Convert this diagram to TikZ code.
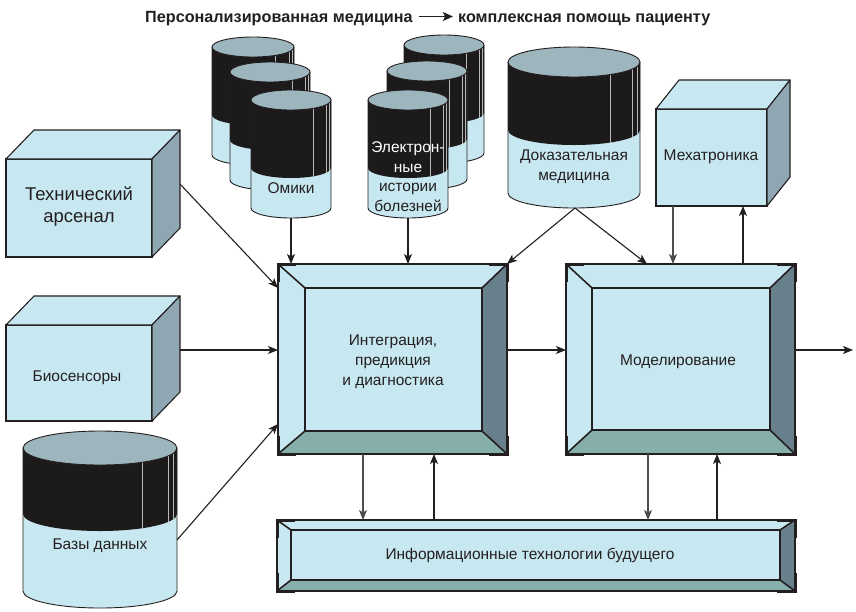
\documentclass[tikz,border=0pt]{standalone}
\usepackage{fontspec}
\setmainfont{Liberation Sans}
\usetikzlibrary{arrows.meta,calc}
\definecolor{lb}{RGB}{200,232,241}
\definecolor{cubeside}{RGB}{142,167,178}
\definecolor{captop}{RGB}{157,181,188}
\definecolor{bevright}{RGB}{104,128,140}
\definecolor{bevbot}{RGB}{134,174,170}
\definecolor{ink}{RGB}{35,31,32}
\definecolor{band}{RGB}{28,26,27}

% cylinder: cx, top cy, band cy, bottom cy, rx, ry
\newcommand\drawcyl[6]{%
  \fill[lb] (#1-#5,#2) -- (#1-#5,#4) arc[start angle=180,end angle=0,x radius=#5,y radius=#6] -- (#1+#5,#2) -- cycle;
  \fill[band] (#1-#5,#2) -- (#1-#5,#3) arc[start angle=180,end angle=0,x radius=#5,y radius=#6] -- (#1+#5,#2) -- cycle;
  \foreach \f in {0.55,0.88,0.95}{
    \draw[gray!55, line width=0.4pt] ({#1+\f*#5},{#2+sqrt(1-\f*\f)*#6}) -- ({#1+\f*#5},{#3+sqrt(1-\f*\f)*#6});
  }
  \draw[ink, line width=0.9pt] (#1-#5,#2) -- (#1-#5,#4) arc[start angle=180,end angle=0,x radius=#5,y radius=#6] -- (#1+#5,#2);
  \draw[ink, line width=0.9pt, fill=captop] (#1,#2) ellipse[x radius=#5, y radius=#6];
}

% bevelled box: name, outer x1 y1 x2 y2, inner x1 y1 x2 y2
\newcommand\bevelbox[9]{%
  \node[inner sep=0pt, outer sep=0pt, minimum width={#4-#2}, minimum height={#5-#3}] (#1) at ({(#2+#4)/2},{(#3+#5)/2}) {};
  \fill[lb] (#2,#3) rectangle (#4,#5);
  \fill[bevright] (#4,#3) -- (#8,#7) -- (#8,#9) -- (#4,#5) -- cycle;
  \fill[bevbot] (#2,#5) -- (#6,#9) -- (#8,#9) -- (#4,#5) -- cycle;
  \draw[ink, line width=1.2pt] (#2,#3) rectangle (#4,#5);
  \draw[ink, line width=1.6pt] (#6,#7) rectangle (#8,#9);
  \draw[ink, line width=1.6pt] (#2,#3) -- (#6,#7) (#4,#3) -- (#8,#7) (#2,#5) -- (#6,#9) (#4,#5) -- (#8,#9);
  \draw[ink, line width=3pt, line join=miter]
    (#2+18,#3) -- (#2,#3) -- (#2,#3+18)
    (#4-18,#3) -- (#4,#3) -- (#4,#3+18)
    (#2+18,#5) -- (#2,#5) -- (#2,#5-18)
    (#4-18,#5) -- (#4,#5) -- (#4,#5-18);
}

\begin{document}
\begin{tikzpicture}[x=1pt,y=-1pt,
  txt/.style={font=\fontsize{15.5}{20}\selectfont, text=ink, align=center, inner sep=0pt},
  ttl/.style={font=\bfseries\fontsize{16.2}{18}\selectfont, text=ink, inner sep=0pt},
  edge/.style={draw=ink, line width=1.1pt, -{Stealth[length=10pt,width=8pt,inset=2.5pt]}},
  edgeg/.style={edge, draw=ink!80},
  cubefront/.style={draw=ink, fill=lb, line width=1.1pt, inner sep=0pt, outer sep=0pt},
  cubeface/.style={draw=ink, line width=1.1pt, line join=round},
]
\useasboundingbox (0,0) rectangle (856,611);
\fill[white] (0,0) rectangle (856,611);

% title
\node[ttl, anchor=base west] (t1) at (145,22) {Персонализированная медицина};
\coordinate (t1a) at ($(t1.base east)+(6,-5.5)$);
\coordinate (t2s) at ($(t1.base east)+(45,0)$);
\node[ttl, anchor=base west] (t2) at (t2s) {комплексная помощь пациенту};
\coordinate (t2a) at ($(t2.base west)+(-5,-5.5)$);
\draw[ink, line width=1.3pt, -{Stealth[length=10pt,width=9pt,inset=2pt]}] (t1a) -- (t2a);

% cubes
\node[cubefront, minimum width=146, minimum height=98] (tech) at (79,208) {};
\filldraw[cubeface, fill=lb] (tech.north west) -- ++(28,-29) -- ($(tech.north east)+(28,-29)$) -- (tech.north east) -- cycle;
\filldraw[cubeface, fill=cubeside] (tech.north east) -- ++(28,-29) -- ($(tech.south east)+(28,-29)$) -- (tech.south east) -- cycle;
\node[txt, font=\fontsize{18.5}{22}\selectfont] (techT) at (79,207) {Технический\\арсенал};

\node[cubefront, minimum width=146, minimum height=96] (bio) at (79,373) {};
\filldraw[cubeface, fill=lb] (bio.north west) -- ++(28,-29) -- ($(bio.north east)+(28,-29)$) -- (bio.north east) -- cycle;
\filldraw[cubeface, fill=cubeside] (bio.north east) -- ++(28,-29) -- ($(bio.south east)+(28,-29)$) -- (bio.south east) -- cycle;
\node[txt] (bioT) at (77,378) {Биосенсоры};

\node[cubefront, minimum width=111, minimum height=97] (mech) at (711.5,157.5) {};
\filldraw[cubeface, fill=lb] (mech.north west) -- ++(23,-29) -- ($(mech.north east)+(23,-29)$) -- (mech.north east) -- cycle;
\filldraw[cubeface, fill=cubeside] (mech.north east) -- ++(23,-29) -- ($(mech.south east)+(23,-29)$) -- (mech.south east) -- cycle;
\node[txt] (mechT) at (711,157) {Мехатроника};

% cylinders: omics stack
\drawcyl{253}{47}{115}{155}{41}{10}
\drawcyl{270}{72}{140}{180}{40}{10}
\drawcyl{291}{100}{168}{208}{40}{10}
\node[txt] (omT) at (291,188) {Омики};
\coordinate (omB) at (291,218);

% EHR stack
\drawcyl{444}{45}{113}{153}{40}{10}
\drawcyl{427}{71}{139}{179}{40}{10}
\drawcyl{408}{100}{168}{208}{40}{10}
\node[txt, text=white] (ehrT1) at (408,157) {Электрон-\\ные};
\node[txt] (ehrT2) at (408,197) {истории\\болезней};
\coordinate (ehrB) at (408,218);

% evidence-based medicine
\drawcyl{574}{62}{130}{193}{66}{15}
\node[txt] (dokT) at (574,167) {Доказательная\\медицина};
\coordinate (dokB) at (575,208);

% databases
\drawcyl{100}{448}{514}{591}{77}{17}
\node[txt] (dbT) at (100,546) {Базы данных};
\coordinate (dbR) at (177,540);

% bevelled boxes
\bevelbox{integ}{278}{264}{507}{454}{305}{288}{482}{431}
\node[txt] (integT) at (393,362) {Интеграция,\\предикция\\и диагностика};
\bevelbox{model}{566}{264}{795}{454}{592}{288}{770}{430}
\node[txt] (modelT) at (678,362) {Моделирование};
\bevelbox{info}{277}{520}{795}{591}{291}{530}{780}{580}
\node[txt] (infoT) at (530,555) {Информационные технологии будущего};

% connector end points
\coordinate (mD) at ($(mech.south west)+(17,0)$);
\coordinate (mU) at ($(mech.south west)+(87,0)$);
\coordinate (techR) at ($(tech.north east)+(28,25)$);
\coordinate (bioR) at ($(bio.north east)+(28,25)$);
\coordinate (iTL) at ($(integ.north west)+(0,24)$);
\coordinate (iBL) at ($(integ.south west)+(0,-30)$);
\coordinate (iE) at ($(integ.east)+(0,-9)$);
\coordinate (mW) at ($(model.west)+(0,-9)$);
\coordinate (mE) at ($(model.east)+(0,-9)$);
\coordinate (mT) at ($(model.north west)+(81,0)$);
\coordinate (out) at (853,350);
\coordinate (iD) at ($(integ.south west)+(85,0)$);
\coordinate (iU) at ($(integ.south west)+(156,0)$);
\coordinate (moD) at ($(model.south west)+(82,0)$);
\coordinate (moU) at ($(model.south west)+(151,0)$);

% connectors
\draw[edge] (omB) -- (omB |- integ.north);
\draw[edge] (ehrB) -- (ehrB |- integ.north);
\draw[edge] (dokB) -- (integ.north east);
\draw[edge] (dokB) -- (mT);
\draw[edgeg] (mD) -- (mD |- model.north);
\draw[edge] (mU |- model.north) -- (mU);
\draw[edge] (techR) -- (iTL);
\draw[edge] (bioR) -- (bioR -| integ.west);
\draw[edge] (dbR) -- (iBL);
\draw[edge] (iE) -- (mW);
\draw[edge] (mE) -- (out);
\draw[edgeg] (iD) -- (iD |- info.north);
\draw[edge] (iU |- info.north) -- (iU);
\draw[edgeg] (moD) -- (moD |- info.north);
\draw[edge] (moU |- info.north) -- (moU);
\end{tikzpicture}
\end{document}
